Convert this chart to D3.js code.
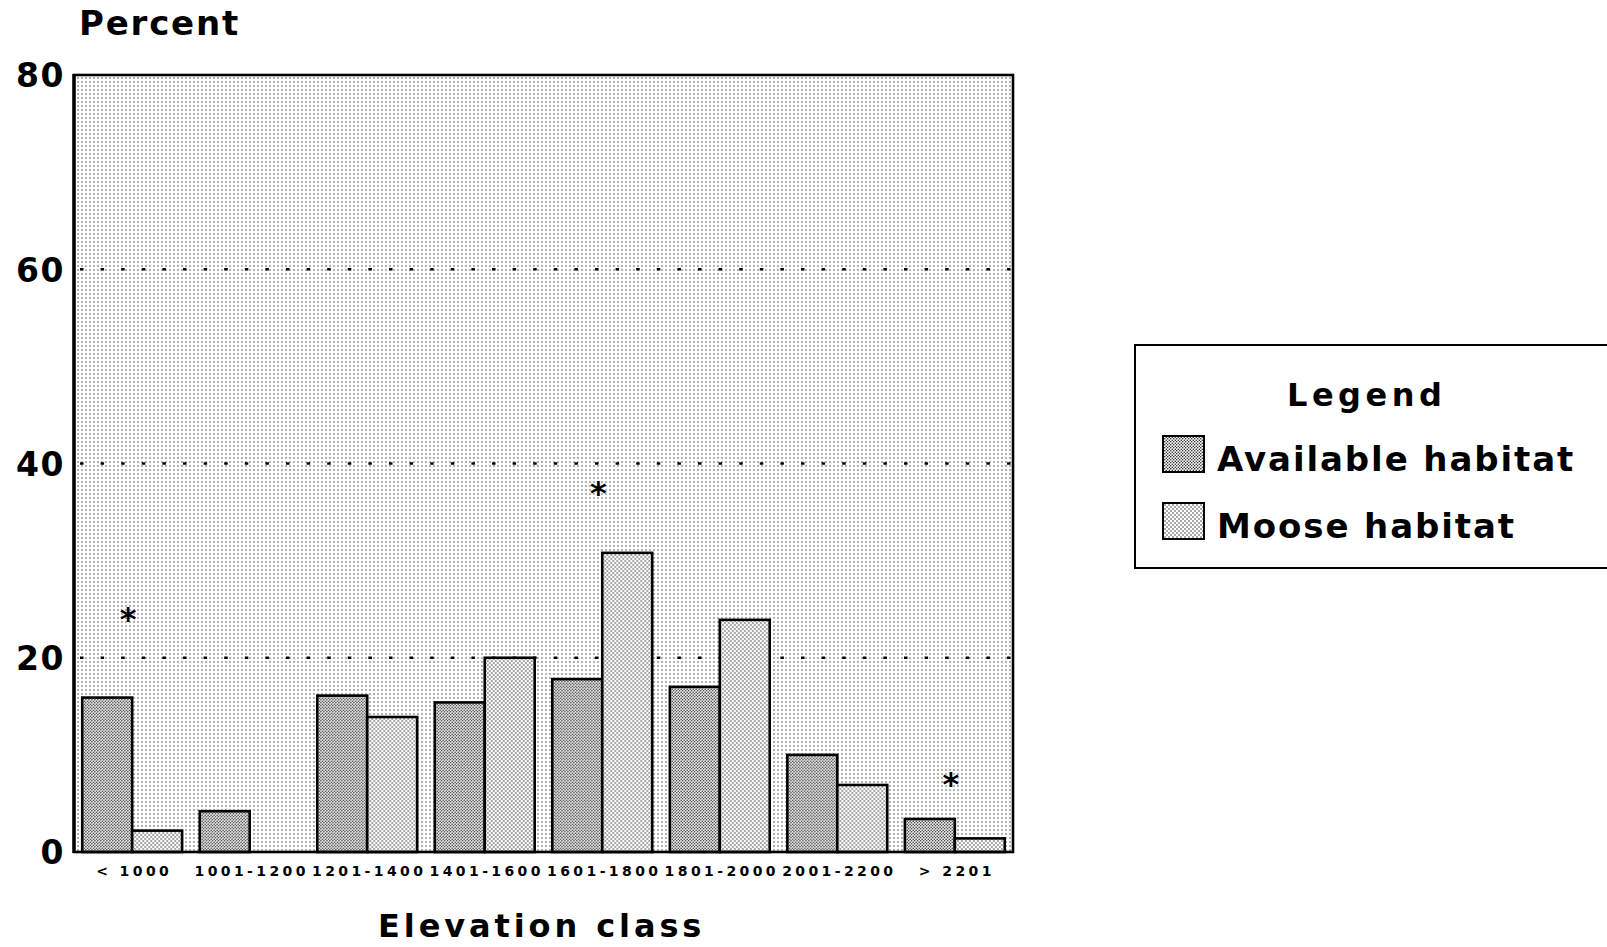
<!DOCTYPE html>
<html>
<head>
<meta charset="utf-8">
<script src="https://cdn.jsdelivr.net/npm/d3@7"></script>
<style>
  body { margin: 0; background: #fff; }
  svg { display: block; }
  text { font-family: "DejaVu Sans", "Liberation Sans", sans-serif; fill: #000; }
</style>
</head>
<body>
<svg id="chart" width="1607" height="947"></svg>
<script>
// Elevation classes (m) and percentage of habitat in each class
const categories = ["< 1000", "1001-1200", "1201-1400", "1401-1600", "1601-1800", "1801-2000", "2001-2200", "> 2201"];
const availableHabitat = [15.9, 4.2, 16.1, 15.4, 17.8, 17.0, 10.0, 3.4];
const mooseHabitat = [2.2, 0, 13.9, 20.0, 30.8, 23.9, 6.9, 1.4];
// level (percent) of the significance asterisk per class, null where none
const significanceLevel = [24.2, null, null, null, 37.2, null, null, 7.3];
const yTicks = [0, 20, 40, 60, 80];
const gridTicks = [20, 40, 60];
const seriesNames = ["Available habitat", "Moose habitat"];
const seriesKeys = ["available", "moose"];

const rows = categories.map((c, i) => ({
  category: c,
  available: availableHabitat[i],
  moose: mooseHabitat[i],
  mark: significanceLevel[i]
}));

const svg = d3.select("#chart");
svg.append("rect").attr("width", 1607).attr("height", 947).attr("fill", "#fff");

// stipple fills
const defs = svg.append("defs");
function stipple(id, size, r, dots, ink) {
  const p = defs.append("pattern")
    .attr("id", id)
    .attr("patternUnits", "userSpaceOnUse")
    .attr("width", size).attr("height", size);
  p.append("rect").attr("width", size).attr("height", size).attr("fill", "#fff");
  dots.forEach(([cx, cy]) => p.append("circle").attr("cx", cx).attr("cy", cy).attr("r", r).attr("fill", ink));
}
stipple("bgDots", 4, 0.65, [[2, 2]], "#222");
stipple("availDots", 3, 0.74, [[0.75, 0.75], [2.25, 2.25]], "#111");
stipple("mooseDots", 4, 0.72, [[1, 1], [3, 3]], "#222");
const fills = { available: "url(#availDots)", moose: "url(#mooseDots)" };

const plot = { left: 74, right: 1013, top: 75, bottom: 852 };

const x = d3.scaleBand()
  .domain(categories)
  .range([plot.left, plot.right])
  .paddingInner(0.15)
  .paddingOuter(0.07);

const xSub = d3.scaleBand()
  .domain(seriesKeys)
  .range([0, x.bandwidth()]);

const y = d3.scaleLinear()
  .domain([0, 80])
  .range([plot.bottom, plot.top]);

// plot background
svg.append("rect")
  .attr("x", plot.left).attr("y", plot.top)
  .attr("width", plot.right - plot.left).attr("height", plot.bottom - plot.top)
  .attr("fill", "url(#bgDots)");

// dotted reference lines
svg.append("g").selectAll("line")
  .data(gridTicks)
  .join("line")
  .attr("x1", plot.left + 6).attr("x2", plot.right)
  .attr("y1", d => y(d)).attr("y2", d => y(d))
  .attr("stroke", "#000")
  .attr("stroke-width", 2.6)
  .attr("stroke-dasharray", "3.5 17.1");

// bars
const groups = svg.append("g").selectAll("g")
  .data(rows)
  .join("g")
  .attr("transform", d => `translate(${x(d.category)},0)`);

groups.selectAll("rect")
  .data(d => seriesKeys.map(k => ({ key: k, value: d[k] })))
  .join("rect")
  .attr("x", d => xSub(d.key))
  .attr("width", xSub.bandwidth())
  .attr("y", d => y(d.value))
  .attr("height", d => y(0) - y(d.value))
  .attr("fill", d => fills[d.key])
  .attr("stroke", "#000")
  .attr("stroke-width", 2.6);

// significance asterisks
svg.append("g").selectAll("text")
  .data(rows.filter(d => d.mark != null))
  .join("text")
  .attr("x", d => x(d.category) + x.bandwidth() / 2 - 4)
  .attr("y", d => y(d.mark))
  .attr("dy", "0.42em")
  .attr("text-anchor", "middle")
  .attr("font-size", 32)
  .attr("font-weight", "bold")
  .text("*");

// frame
svg.append("rect")
  .attr("x", plot.left).attr("y", plot.top)
  .attr("width", plot.right - plot.left).attr("height", plot.bottom - plot.top)
  .attr("fill", "none")
  .attr("stroke", "#000")
  .attr("stroke-width", 2.6);
svg.append("line")
  .attr("x1", plot.left).attr("x2", plot.left)
  .attr("y1", plot.top - 1).attr("y2", plot.bottom + 1)
  .attr("stroke", "#000").attr("stroke-width", 3.4);

// y axis
const yAxis = svg.append("g")
  .attr("transform", `translate(${plot.left},0)`)
  .call(d3.axisLeft(y).tickValues(yTicks).tickSize(0).tickPadding(9).tickFormat(d3.format("d")));
yAxis.select(".domain").remove();
yAxis.selectAll("text")
  .attr("font-size", 33)
  .attr("font-weight", "bold")
  .attr("letter-spacing", 1.5)
  .attr("dy", "0.36em")
  .style("font-family", '"DejaVu Sans", sans-serif');

// x axis
const xAxis = svg.append("g")
  .attr("transform", `translate(0,${plot.bottom})`)
  .call(d3.axisBottom(x).tickSize(0).tickPadding(14));
xAxis.select(".domain").remove();
xAxis.selectAll("text")
  .attr("font-size", 14)
  .attr("font-weight", "bold")
  .attr("letter-spacing", 3.4)
  .attr("dx", 2)
  .style("font-family", '"DejaVu Sans", sans-serif');

// axis titles
svg.append("text")
  .attr("x", 79).attr("y", 35)
  .attr("font-size", 34).attr("font-weight", "bold")
  .attr("letter-spacing", 1.8)
  .text("Percent");

svg.append("text")
  .attr("x", 378).attr("y", 937)
  .attr("font-size", 32).attr("font-weight", "bold")
  .attr("letter-spacing", 3.9)
  .text("Elevation class");

// legend
const legend = svg.append("g");
legend.append("rect")
  .attr("x", 1135).attr("y", 345)
  .attr("width", 520).attr("height", 223)
  .attr("fill", "#fff")
  .attr("stroke", "#000").attr("stroke-width", 2);
legend.append("text")
  .attr("x", 1287).attr("y", 406)
  .attr("font-size", 32).attr("font-weight", "bold")
  .attr("letter-spacing", 4.5)
  .text("Legend");

const legendRows = [436, 503];
legend.selectAll("g.item")
  .data(seriesKeys)
  .join("g")
  .attr("class", "item")
  .each(function (k, i) {
    const g = d3.select(this);
    g.append("rect")
      .attr("x", 1163).attr("y", legendRows[i])
      .attr("width", 41).attr("height", 36)
      .attr("fill", fills[k])
      .attr("stroke", "#000").attr("stroke-width", 2);
    g.append("text")
      .attr("x", 1217).attr("y", legendRows[i] + 35)
      .attr("font-size", 34).attr("font-weight", "bold")
      .attr("letter-spacing", 1.9)
      .text(seriesNames[i]);
  });
</script>
</body>
</html>
